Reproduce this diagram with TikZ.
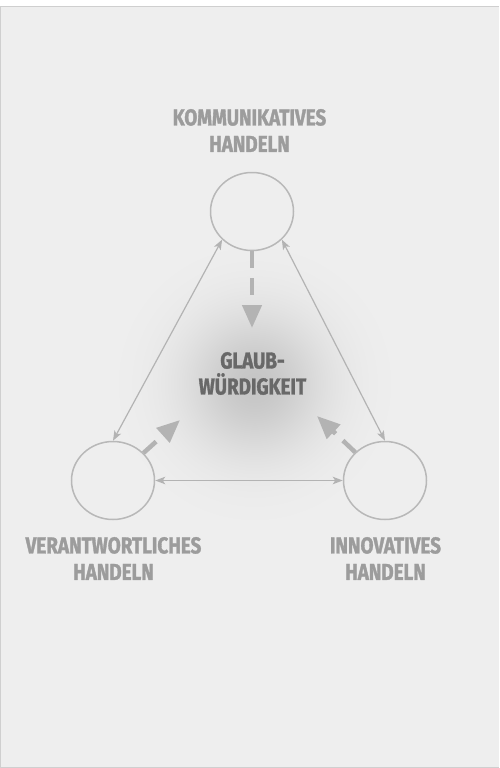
\documentclass[tikz,border=0pt]{standalone}
\usepackage{fontspec}
\newfontfamily\lblfont{Fira Sans}[FakeStretch=0.82,FakeBold=1.4]
\usetikzlibrary{arrows.meta,shapes.geometric}
\definecolor{bg}{HTML}{EEEEEE}
\definecolor{framec}{HTML}{CFCFCF}
\definecolor{ringc}{HTML}{B8B8B8}
\definecolor{connc}{HTML}{B3B3B3}
\definecolor{lblc}{HTML}{9C9C9C}
\definecolor{corec}{HTML}{686868}
\tikzset{
  ring/.style={ellipse, draw=ringc, line width=1.5pt, minimum width=83pt, minimum height=78pt, inner sep=0pt},
  conn/.style={draw=connc, line width=1.2pt, {Stealth[length=10pt,width=7.5pt,inset=2.5pt]}-{Stealth[length=10pt,width=7.5pt,inset=2.5pt]}},
  feed/.style={draw=connc, line width=4.5pt, dash pattern=on 17pt off 10pt, -{Triangle[length=23pt,width=19pt]}},
  lbltext/.style={font=\lblfont\bfseries\fontsize{23}{26.5}\selectfont, text=lblc, align=center, inner sep=0pt},
  coretext/.style={font=\lblfont\bfseries\fontsize{23}{26}\selectfont, text=corec, align=center, inner sep=0pt}
}
\begin{document}
\begin{tikzpicture}[x=1pt,y=-1pt]
\useasboundingbox (0,0) rectangle (499,768);
\fill[white] (0,0) rectangle (499,768);
\fill[bg] (0,6) rectangle (499,768);
\draw[framec, line width=1pt] (499,6.5) -- (0.5,6.5) -- (0.5,767.5) -- (499,767.5);
\coordinate (glowcenter) at (255,384);
\foreach \k in {1,...,40}{
  \pgfmathsetmacro\rr{50*sqrt(-2*ln(\k/41))}
  \fill[black, opacity=0.005] (glowcenter) circle (\rr);
}
\node[ring] (top) at (252,211.5) {};
\node[ring] (bl) at (113,480.5) {};
\node[ring] (br) at (385,480.5) {};
\draw[conn] (top.south west) -- (bl.north);
\draw[conn] (top.south east) -- (br.north);
\draw[conn] (bl.east) -- (br.west);
\coordinate (tipT) at (252,328);
\coordinate (tipL) at (180,420);
\coordinate (tipR) at (317,416);
\draw[feed] (top) -- (tipT);
\draw[feed] (bl) -- (tipL);
\draw[feed] (br) -- (tipR);
\node[lbltext] (lt) at (249.5,130.5) {KOMMUNIKATIVES\\HANDELN};
\node[lbltext] (ll) at (113.5,558.5) {VERANTWORTLICHES\\HANDELN};
\node[lbltext] (lr) at (385.5,558.5) {INNOVATIVES\\HANDELN};
\node[coretext] (core) at (252.5,373.5) {GLAUB-\\WÜRDIGKEIT};
\end{tikzpicture}
\end{document}
